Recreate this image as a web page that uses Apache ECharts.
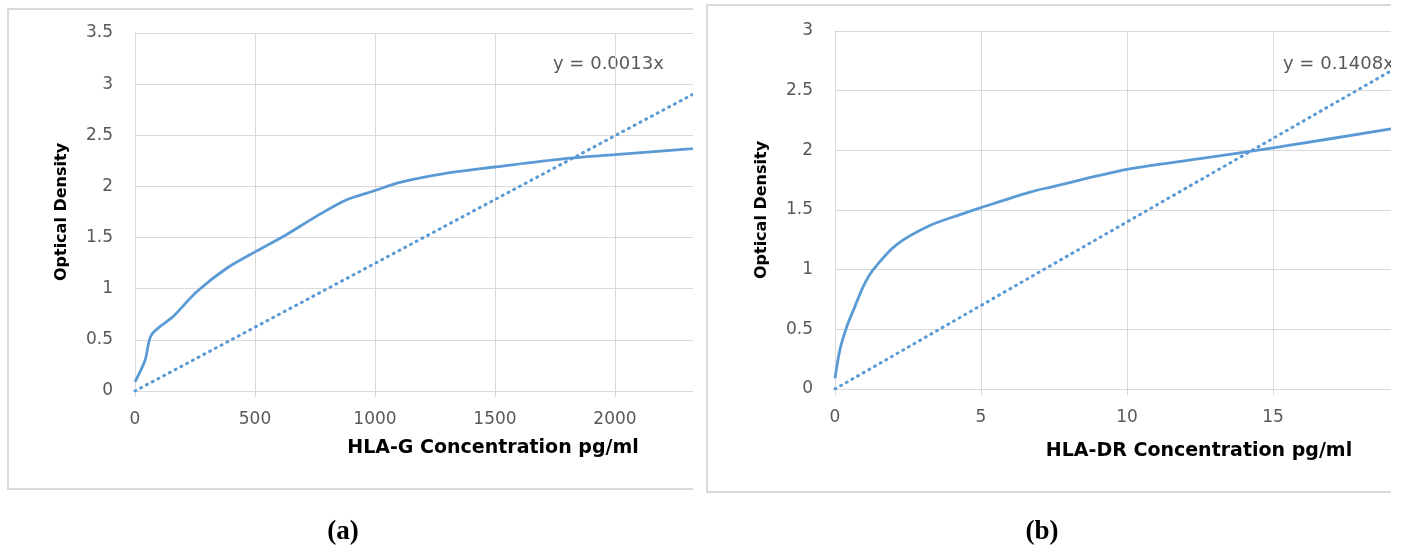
<!DOCTYPE html>
<html><head><meta charset="utf-8">
<script src="https://cdn.jsdelivr.net/npm/echarts/dist/echarts.min.js"></script>
<style>
html,body{margin:0;padding:0;background:#fff;width:1406px;height:547px;overflow:hidden}
.clip{position:absolute;top:0;height:547px;overflow:hidden}
#clipA{left:0;width:693px}
#clipB{left:700px;width:691px}
.chart{position:absolute;left:0;top:0;width:780px;height:547px}
</style></head><body>
<div id="clipA" class="clip"><div id="chartA" class="chart"></div></div>
<div id="clipB" class="clip"><div id="chartB" class="chart"></div></div>
<script>
// Panel (a): HLA-G standard curve
const hlaGConc = [0, 42, 69, 160, 257, 382, 500, 618, 757, 882, 1000, 1104, 1300, 1500, 1784, 2000, 2325, 2400];
const hlaGOD   = [0.09, 0.30, 0.55, 0.73, 0.97, 1.20, 1.36, 1.51, 1.71, 1.87, 1.96, 2.04, 2.13, 2.19, 2.27, 2.31, 2.37, 2.39];
const hlaGTrendConc = [0, 2500];
const hlaGTrendOD   = [0, 3.12];
const hlaGEquation = 'y = 0.0013x';
const hlaGXTitle = 'HLA-G Concentration pg/ml';
const hlaGYTicks = { min: 0, max: 3.5, interval: 0.5 };
const hlaGXTicks = { min: 0, max: 2500, interval: 500 };

// Panel (b): HLA-DR standard curve
const hlaDRConc = [0, 0.17, 0.4, 0.68, 0.97, 1.31, 2.11, 3.25, 4.39, 5, 6.68, 7.36, 10, 12.5, 15, 19.04, 19.5];
const hlaDROD   = [0.09, 0.33, 0.52, 0.69, 0.86, 1.00, 1.21, 1.37, 1.47, 1.52, 1.65, 1.69, 1.84, 1.93, 2.02, 2.18, 2.20];
const hlaDRTrendConc = [0, 20];
const hlaDRTrendOD   = [0, 2.8];
const hlaDREquation = 'y = 0.1408x';
const hlaDRXTitle = 'HLA-DR Concentration pg/ml';
const hlaDRYTicks = { min: 0, max: 3, interval: 0.5 };
const hlaDRXTicks = { min: 0, max: 20, interval: 5 };

const yTitle = 'Optical Density';
const captions = ['(a)', '(b)'];

const zip = (xs, ys) => xs.map((x, i) => [x, ys[i]]);
const BLUE = '#5B9BD5';
const GRID = '#d9d9d9';
const LABEL = '#595959';
const FONT = 'DejaVu Sans';

function makeOption(p) {
  return {
    animation: false,
    backgroundColor: '#fff',
    grid: { left: 135, top: p.top, width: p.gridW, height: 358, containLabel: false },
    xAxis: {
      type: 'value', min: p.xt.min, max: p.xt.max, interval: p.xt.interval,
      name: p.xTitle, nameLocation: 'middle', nameGap: p.xNameGap,
      nameTextStyle: { fontFamily: FONT, fontWeight: 'bold', fontSize: 19, color: '#000', padding: [0, 0, 0, p.xNameShift] },
      axisLine: { show: true, lineStyle: { color: GRID, width: 1 } },
      axisTick: { show: true, length: 6, lineStyle: { color: GRID } },
      axisLabel: { fontFamily: FONT, fontSize: 17, color: LABEL, margin: 20, formatter: v => String(v) },
      splitLine: { show: true, lineStyle: { color: GRID, width: 1 } }
    },
    yAxis: {
      type: 'value', min: p.yt.min, max: p.yt.max, interval: p.yt.interval,
      name: yTitle, nameLocation: 'middle', nameRotate: 90, nameGap: 65,
      nameTextStyle: { fontFamily: FONT, fontWeight: 'bold', fontSize: 16, color: '#000' },
      axisLine: { show: true, lineStyle: { color: GRID, width: 1 } },
      axisTick: { show: false },
      axisLabel: { fontFamily: FONT, fontSize: 17, color: LABEL, margin: 22, formatter: v => String(v) },
      splitLine: { show: true, lineStyle: { color: GRID, width: 1 } }
    },
    graphic: [
      { type: 'rect', z: -1, silent: true, shape: p.box, style: { fill: 'none', stroke: GRID, lineWidth: 2 } },
      { type: 'text', x: p.eqX, y: 64, style: { text: p.eq, fontFamily: FONT, fontSize: 18, fill: LABEL, verticalAlign: 'middle' } },
      { type: 'text', x: p.capX, y: 532, style: { text: p.cap, font: 'bold 27px "Liberation Serif"', fill: '#000', align: 'center', verticalAlign: 'middle' } }
    ],
    series: [
      { type: 'line', data: zip(p.cx, p.cy), smooth: 0.3, showSymbol: false, clip: true,
        lineStyle: { color: BLUE, width: 2.8 } },
      { type: 'line', data: zip(p.tx, p.ty), showSymbol: false, clip: true,
        lineStyle: { color: BLUE, width: 3, type: [1, 5.5], cap: 'round' } }
    ]
  };
}

const chartA = echarts.init(document.getElementById('chartA'), null, { renderer: 'canvas' });
chartA.setOption(makeOption({
  top: 33, gridW: 600, xt: hlaGXTicks, yt: hlaGYTicks,
  xTitle: hlaGXTitle, xNameGap: 48, xNameShift: 116,
  box: { x: 8, y: 9, width: 760, height: 480 },
  eq: hlaGEquation, eqX: 553, cap: captions[0], capX: 343,
  cx: hlaGConc, cy: hlaGOD, tx: hlaGTrendConc, ty: hlaGTrendOD
}));

const chartB = echarts.init(document.getElementById('chartB'), null, { renderer: 'canvas' });
chartB.setOption(makeOption({
  top: 31, gridW: 584, xt: hlaDRXTicks, yt: hlaDRYTicks,
  xTitle: hlaDRXTitle, xNameGap: 53, xNameShift: 144,
  box: { x: 7, y: 5, width: 760, height: 487 },
  eq: hlaDREquation, eqX: 583, cap: captions[1], capX: 342,
  cx: hlaDRConc, cy: hlaDROD, tx: hlaDRTrendConc, ty: hlaDRTrendOD
}));
</script>
</body></html>
